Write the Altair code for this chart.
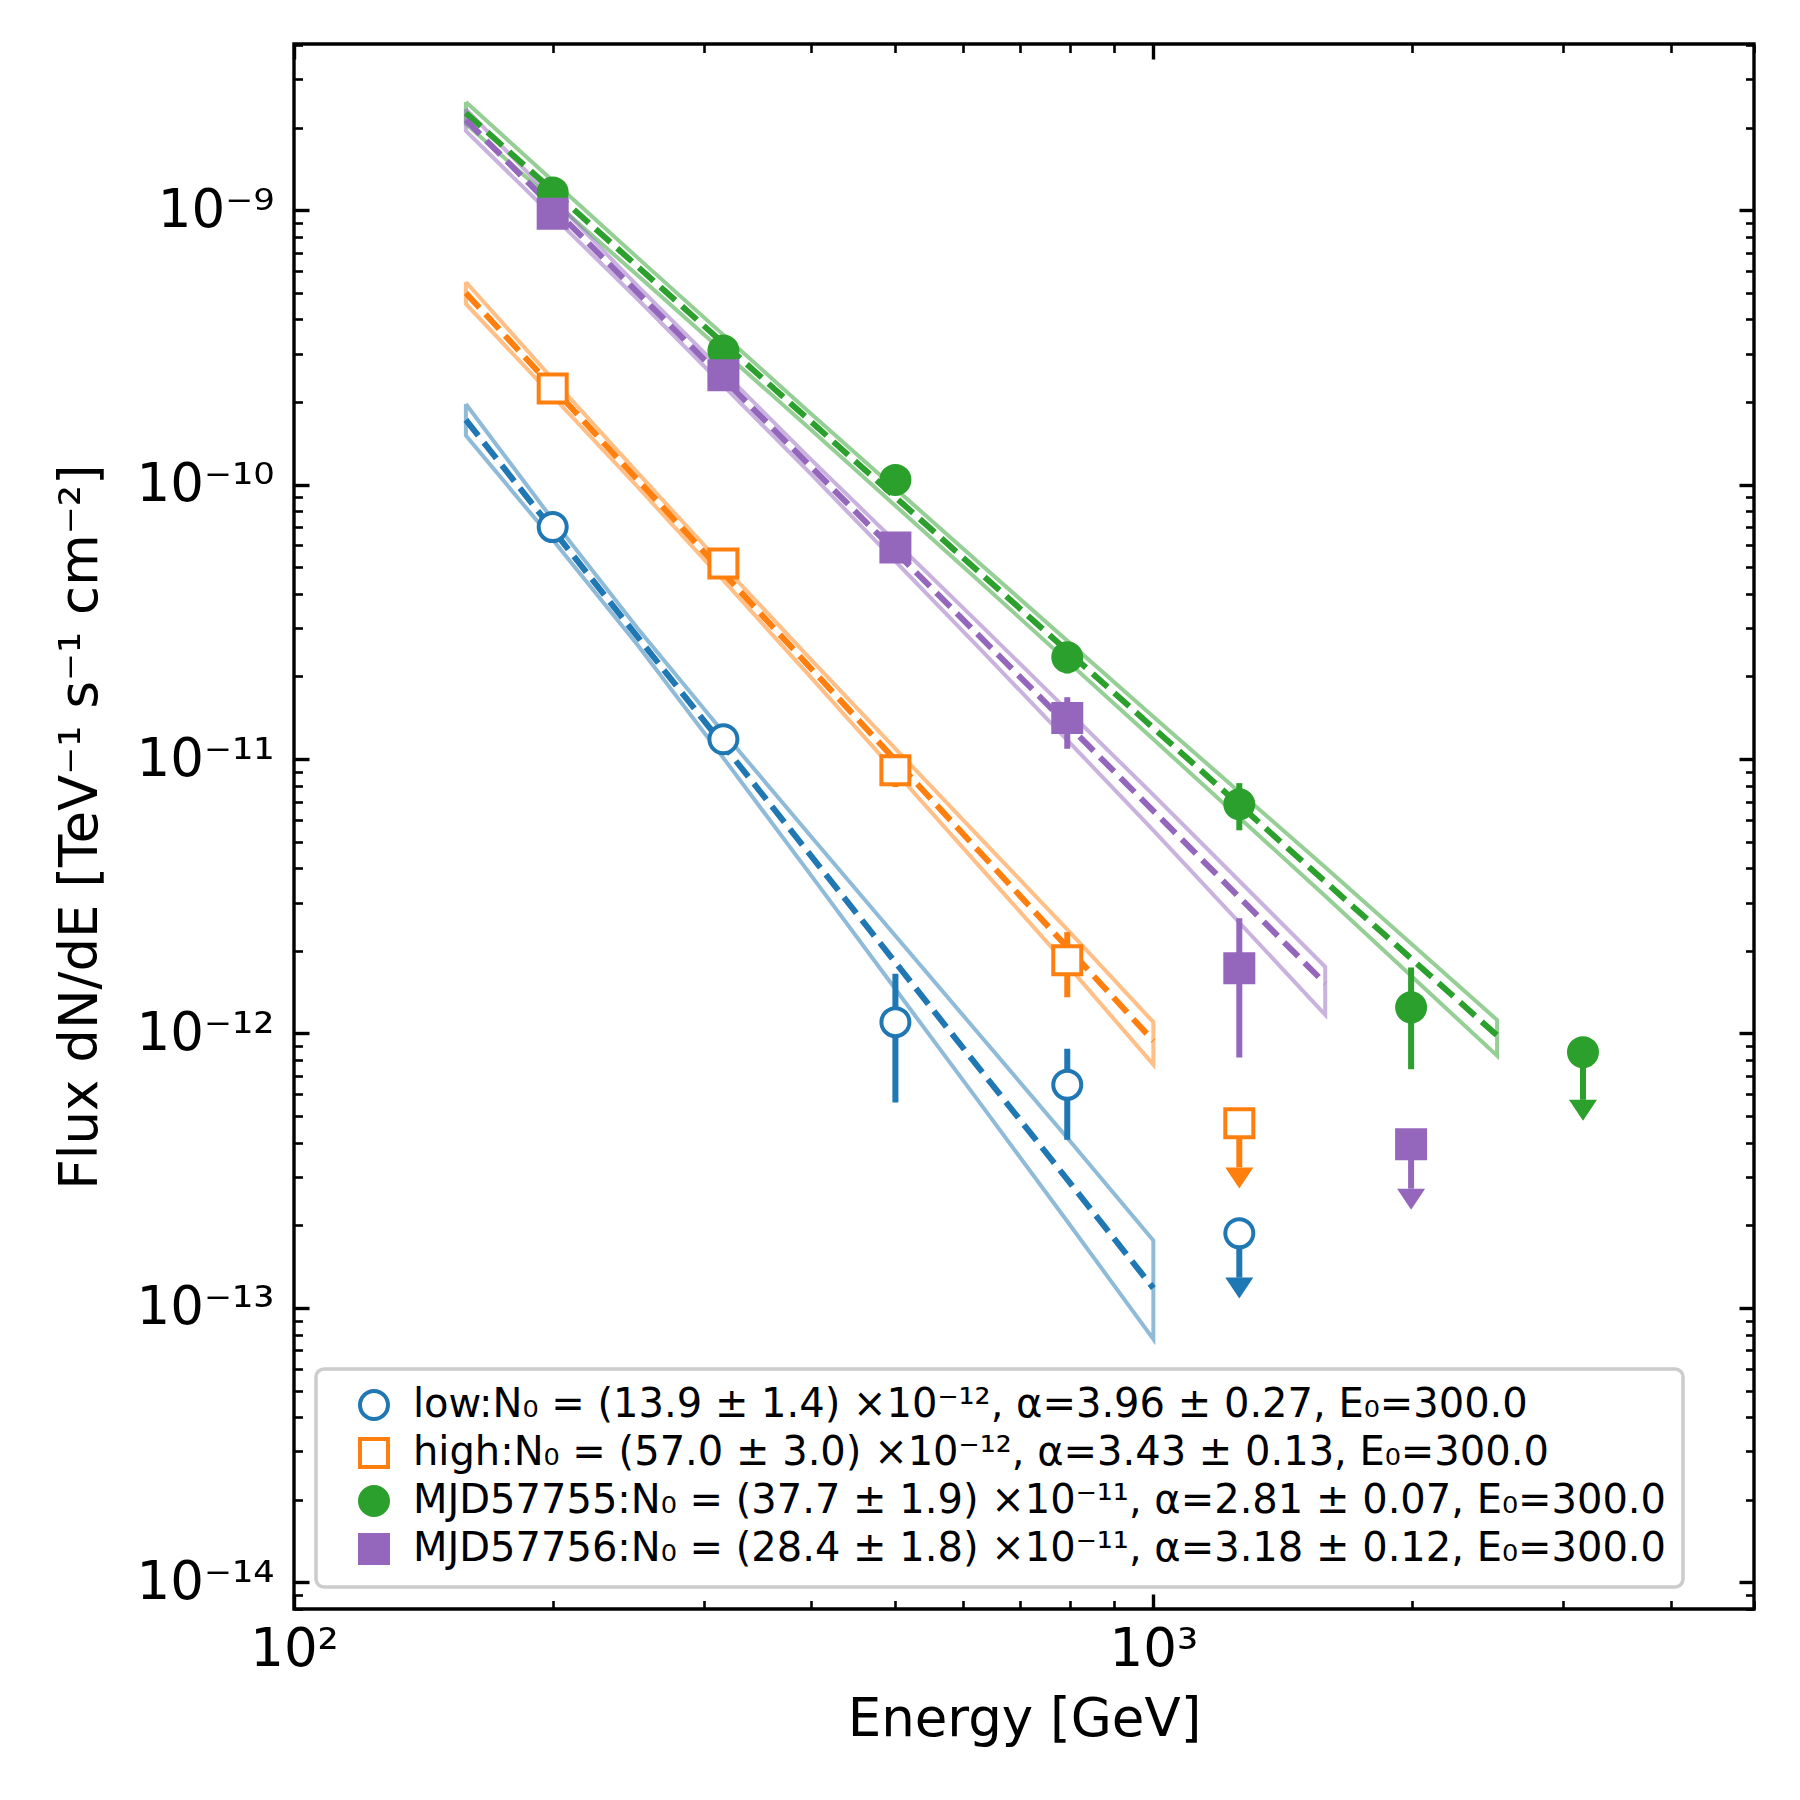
import altair as alt
import pandas as pd

# ---------------- data ----------------
SERIES = ["low", "high", "MJD57755", "MJD57756"]
COLORS = ["#1f77b4", "#ff7f0e", "#2ca02c", "#9467bd"]
SHAPES = ["circle", "square", "circle", "square"]
FILLS = ["white", "white", "#2ca02c", "#9467bd"]
LEGEND_LABELS = [
    "low:N₀ = (13.9 ± 1.4) ×10⁻¹², α=3.96 ± 0.27, E₀=300.0",
    "high:N₀ = (57.0 ± 3.0) ×10⁻¹², α=3.43 ± 0.13, E₀=300.0",
    "MJD57755:N₀ = (37.7 ± 1.9) ×10⁻¹¹, α=2.81 ± 0.07, E₀=300.0",
    "MJD57756:N₀ = (28.4 ± 1.8) ×10⁻¹¹, α=3.18 ± 0.12, E₀=300.0",
]

# flux points: energy [GeV], flux, lower end, upper end, upper-limit flag
low_E = [200, 316, 501, 794, 1259]
low_F = [7.0e-11, 1.18e-11, 1.10e-12, 6.5e-13, 1.87e-13]
low_lo = [6.6e-11, 1.11e-11, 5.6e-13, 4.1e-13, 1.29e-13]
low_hi = [7.4e-11, 1.25e-11, 1.65e-12, 8.8e-13, 1.87e-13]
low_ul = [False, False, False, False, True]

high_E = [200, 316, 501, 794, 1259]
high_F = [2.24e-10, 5.16e-11, 9.1e-12, 1.85e-12, 4.71e-13]
high_lo = [2.12e-10, 4.9e-11, 7.9e-12, 1.355e-12, 3.25e-13]
high_hi = [2.36e-10, 5.4e-11, 1.04e-11, 2.34e-12, 4.71e-13]
high_ul = [False, False, False, False, True]

g_E = [200, 316, 501, 794, 1259, 1995, 3162]
g_F = [1.16e-9, 3.08e-10, 1.04e-10, 2.35e-11, 6.84e-12, 1.245e-12, 8.55e-13]
g_lo = [1.12e-9, 2.95e-10, 0.98e-10, 2.05e-11, 5.5e-12, 7.41e-13, 5.73e-13]
g_hi = [1.20e-9, 3.2e-10, 1.10e-10, 2.65e-11, 8.17e-12, 1.74e-12, 8.55e-13]
g_ul = [False, False, False, False, False, False, True]

p_E = [200, 316, 501, 794, 1259, 1995]
p_F = [9.7e-10, 2.5e-10, 5.9e-11, 1.41e-11, 1.73e-12, 3.95e-13]
p_lo = [9.3e-10, 2.38e-10, 5.5e-11, 1.09e-11, 8.18e-13, 2.72e-13]
p_hi = [1.01e-9, 2.62e-10, 6.3e-11, 1.68e-11, 2.63e-12, 3.95e-13]
p_ul = [False, False, False, False, False, True]

# fitted power laws (dashed), end points
fit_low_E, fit_low_F = [158.5, 1000.0], [1.72e-10, 1.18e-13]
fit_high_E, fit_high_F = [158.5, 1000.0], [4.99e-10, 9.4e-13]
fit_g_E, fit_g_F = [158.5, 2511.9], [2.26e-9, 9.84e-13]
fit_p_E, fit_p_F = [158.5, 1584.9], [2.13e-9, 1.52e-12]

# error bands (bow-ties), upper and lower edges
band_low_E = [158.5, 199.5, 251.2, 316.2, 398.1, 501.2, 631.0, 794.3, 1000.0]
band_low_up = [1.965e-10, 7.53e-11, 2.99e-11, 1.246e-11, 5.30e-12, 2.265e-12, 9.71e-13, 4.16e-13, 1.76e-13]
band_low_dn = [1.51e-10, 6.36e-11, 2.596e-11, 1.006e-11, 3.83e-12, 1.449e-12, 5.48e-13, 2.065e-13, 7.7e-14]

band_high_E = [158.5, 199.5, 251.2, 316.2, 398.1, 501.2, 631.0, 794.3, 1000.0]
band_high_up = [5.47e-10, 2.445e-10, 1.1025e-10, 5.04e-11, 2.334e-11, 1.089e-11, 5.10e-12, 2.39e-12, 1.10e-12]
band_high_dn = [4.55e-10, 2.12e-10, 9.80e-11, 4.467e-11, 2.009e-11, 8.97e-12, 3.99e-12, 1.774e-12, 7.7e-13]

band_g_E = [158.5, 251.2, 398.1, 631.0, 1000.0, 1584.9, 2511.9]
band_g_up = [2.477e-9, 6.70e-10, 1.832e-10, 5.09e-11, 1.427e-11, 4.03e-12, 1.12e-12]
band_g_dn = [2.061e-9, 5.775e-10, 1.600e-10, 4.37e-11, 1.180e-11, 3.17e-12, 8.3e-13]

band_p_E = [158.5, 251.2, 398.1, 631.0, 1000.0, 1584.9]
band_p_up = [2.334e-9, 5.285e-10, 1.249e-10, 3.057e-11, 7.4e-12, 1.75e-12]
band_p_dn = [1.943e-9, 4.735e-10, 1.105e-10, 2.489e-11, 5.5e-12, 1.17e-12]

# axis ticks
X_MAJOR = [100, 1000]
X_MAJOR_LABELS = ["10²", "10³"]
X_TICKS = [100, 200, 300, 400, 500, 600, 700, 800, 900, 1000, 2000, 3000, 4000, 5000]
Y_MAJOR = [1e-14, 1e-13, 1e-12, 1e-11, 1e-10, 1e-9]
Y_MAJOR_LABELS = ["10⁻¹⁴", "10⁻¹³", "10⁻¹²", "10⁻¹¹", "10⁻¹⁰", "10⁻⁹"]
Y_TICKS = [m * d for d in [1e-15, 1e-14, 1e-13, 1e-12, 1e-11, 1e-10, 1e-9] for m in range(1, 10)]
Y_TICKS = [float("%.0e" % v) for v in Y_TICKS if 8.0e-15 <= v <= 4.03e-9]

X_DOMAIN = [100, 5000]
Y_DOMAIN = [8.0e-15, 4.03e-9]

# ---------------- tables ----------------
pts = []
for s, E, F, LO, HI, UL in [
    ("low", low_E, low_F, low_lo, low_hi, low_ul),
    ("high", high_E, high_F, high_lo, high_hi, high_ul),
    ("MJD57755", g_E, g_F, g_lo, g_hi, g_ul),
    ("MJD57756", p_E, p_F, p_lo, p_hi, p_ul),
]:
    for e, f, lo, hi, ul in zip(E, F, LO, HI, UL):
        pts.append({"series": s, "E": e, "flux": f, "lo": lo, "hi": hi, "ul": ul})
pts_df = pd.DataFrame(pts)

fit_rows = []
for s, E, F in [("low", fit_low_E, fit_low_F), ("high", fit_high_E, fit_high_F),
                ("MJD57755", fit_g_E, fit_g_F), ("MJD57756", fit_p_E, fit_p_F)]:
    for e, f in zip(E, F):
        fit_rows.append({"series": s, "E": e, "flux": f})
fit_df = pd.DataFrame(fit_rows)

band_rows = []
for s, E, UP, DN in [("low", band_low_E, band_low_up, band_low_dn),
                     ("high", band_high_E, band_high_up, band_high_dn),
                     ("MJD57755", band_g_E, band_g_up, band_g_dn),
                     ("MJD57756", band_p_E, band_p_up, band_p_dn)]:
    seq = list(zip(E, UP)) + list(zip(E[::-1], DN[::-1])) + [(E[0], UP[0])]
    for i, (e, f) in enumerate(seq):
        band_rows.append({"series": s, "E": e, "flux": f, "idx": i})
band_df = pd.DataFrame(band_rows)

# ---------------- helpers ----------------
def chain(majors, labels):
    expr = "''"
    for v, l in zip(majors[::-1], labels[::-1]):
        expr = f"datum.value == {v!r} ? '{l}' : ({expr})"
    return expr

x_major_list = "[" + ",".join(repr(v) for v in X_MAJOR) + "]"
y_major_list = "[" + ",".join(repr(v) for v in Y_MAJOR) + "]"
x_tsize = alt.ExprRef(f"indexof({x_major_list}, datum.value) >= 0 ? -15 : -8.5")
y_tsize = alt.ExprRef(f"indexof({y_major_list}, datum.value) >= 0 ? -15 : -8.5")
x_twidth = alt.ExprRef(f"indexof({x_major_list}, datum.value) >= 0 ? 3.4 : 2.6")
y_twidth = alt.ExprRef(f"indexof({y_major_list}, datum.value) >= 0 ? 3.4 : 2.6")

FONT = "DejaVu Sans"
common = dict(domain=False, grid=False, tickColor="black", labelColor="black",
              titleColor="black", labelFont=FONT, titleFont=FONT,
              labelFontSize=53, titleFontSize=53, titleFontWeight="normal",
              labelOverlap=False, labelFlush=False, labelBound=False)

AX_BOTTOM = alt.Axis(orient="bottom", values=X_TICKS, labelExpr=chain(X_MAJOR, X_MAJOR_LABELS),
                     tickSize=x_tsize, tickWidth=x_twidth, labelPadding=29,
                     title="Energy [GeV]", titlePadding=11, **common)
AX_TOP = alt.Axis(orient="top", values=X_TICKS, labels=False, title=None,
                  tickSize=x_tsize, tickWidth=x_twidth, domain=False, grid=False, tickColor="black")
AX_LEFT = alt.Axis(orient="left", values=Y_TICKS, labelExpr=chain(Y_MAJOR, Y_MAJOR_LABELS),
                   tickSize=y_tsize, tickWidth=y_twidth, labelPadding=35,
                   title="Flux dN/dE [TeV⁻¹ s⁻¹ cm⁻²]", titlePadding=29, **common)
AX_RIGHT = alt.Axis(orient="right", values=Y_TICKS, labels=False, title=None,
                    tickSize=y_tsize, tickWidth=y_twidth, domain=False, grid=False, tickColor="black")

XS = alt.Scale(type="log", domain=X_DOMAIN)
YS = alt.Scale(type="log", domain=Y_DOMAIN)
# line colour scale: same mapping, listed in reverse so its (legend-less) guide
# is not merged with the marker legend
CS = alt.Scale(domain=SERIES[::-1], range=COLORS[::-1])

leg_expr = " : ".join(f"datum.label == '{s}' ? '{l}'" for s, l in zip(SERIES, LEGEND_LABELS)) + " : datum.label"
LEG = alt.Legend(title=None, orient="bottom-left", offset=22, labelExpr=leg_expr,
                 labelFont=FONT, labelFontSize=40, labelColor="black", labelLimit=2000,
                 symbolSize=784, symbolStrokeWidth=4, padding=16, rowPadding=4,
                 symbolOffset=22, labelOffset=19, fillColor="rgba(255,255,255,0.8)",
                 strokeColor="#cccccc", cornerRadius=8)

# ---------------- layers ----------------
bands = alt.Chart(band_df).mark_line(strokeWidth=4, opacity=0.5).encode(
    x=alt.X("E:Q", scale=XS, axis=AX_BOTTOM),
    y=alt.Y("flux:Q", scale=YS, axis=AX_LEFT),
    color=alt.Color("series:N", scale=CS, legend=None),
    order="idx:Q",
)
fits = alt.Chart(fit_df).mark_line(strokeWidth=6, strokeDash=[20, 9]).encode(
    x=alt.X("E:Q", scale=XS, axis=AX_TOP),
    y=alt.Y("flux:Q", scale=YS, axis=AX_RIGHT),
    color=alt.Color("series:N", scale=CS, legend=None),
)
errs = alt.Chart(pts_df).transform_filter("!datum.ul").mark_rule(strokeWidth=6).encode(
    x=alt.X("E:Q", scale=XS, axis=None),
    y=alt.Y("lo:Q", scale=YS, axis=None),
    y2="hi:Q",
    color=alt.Color("series:N", scale=CS, legend=None),
)
ul_rules = alt.Chart(pts_df).transform_filter("datum.ul").mark_rule(strokeWidth=6).encode(
    x=alt.X("E:Q", scale=XS, axis=None),
    y=alt.Y("flux:Q", scale=YS, axis=None),
    y2="lo:Q",
    color=alt.Color("series:N", scale=CS, legend=None),
)
ul_tri = alt.Chart(pts_df).transform_filter("datum.ul").mark_point(
    shape="M-1,0L1,0L0,1.5Z", size=784, filled=True, opacity=1, strokeWidth=0).encode(
    x=alt.X("E:Q", scale=XS, axis=None),
    y=alt.Y("lo:Q", scale=YS, axis=None),
    color=alt.Color("series:N", scale=CS, legend=None),
)
points = alt.Chart(pts_df).mark_point(size=784, strokeWidth=4, opacity=1, fillOpacity=1).encode(
    x=alt.X("E:Q", scale=XS, axis=None),
    y=alt.Y("flux:Q", scale=YS, axis=None),
    stroke=alt.Stroke("series:N", scale=alt.Scale(domain=SERIES, range=COLORS), legend=LEG),
    fill=alt.Fill("series:N", scale=alt.Scale(domain=SERIES, range=FILLS), legend=LEG),
    shape=alt.Shape("series:N", scale=alt.Scale(domain=SERIES, range=SHAPES), legend=LEG),
)

chart = alt.layer(bands, fits, errs, ul_rules, ul_tri, points).resolve_axis(
    x="independent", y="independent"
).properties(
    width=1460, height=1565,
    padding={"left": 286, "top": 36, "right": 30, "bottom": 180},
    autosize=alt.AutoSizeParams(type="none"),
    background="white",
).configure_view(stroke="black", strokeWidth=3.4).configure_legend(strokeWidth=3.5)

chart.save("out.html", embed_options={"renderer": "svg", "actions": False})
